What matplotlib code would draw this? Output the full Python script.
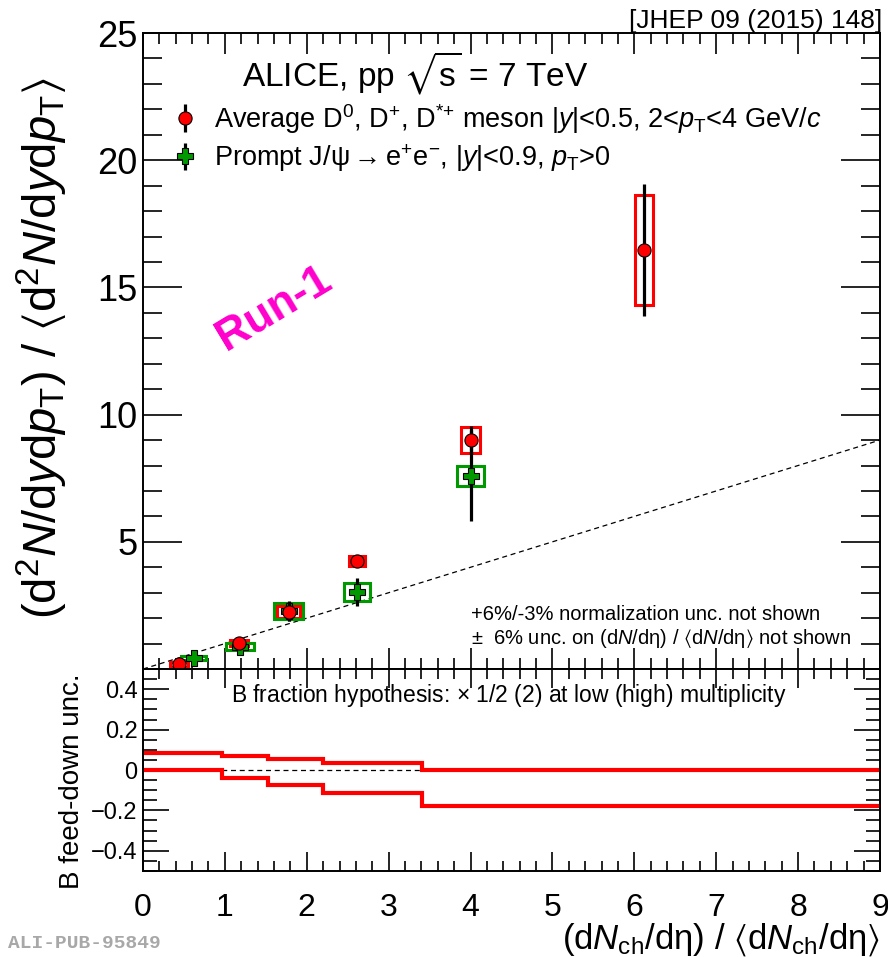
import matplotlib
matplotlib.use("Agg")
import matplotlib.pyplot as plt
from matplotlib.patches import Rectangle
from matplotlib.ticker import MultipleLocator, FixedLocator
import numpy as np

plt.rcParams['font.family'] = ['Liberation Sans', 'DejaVu Sans']
plt.rcParams['mathtext.fontset'] = 'custom'
plt.rcParams['mathtext.rm'] = 'Liberation Sans'
plt.rcParams['mathtext.it'] = 'Liberation Sans:italic'
plt.rcParams['mathtext.bf'] = 'Liberation Sans:bold'
plt.rcParams['mathtext.fallback'] = 'stixsans'

RED = '#ff0000'
GREEN = '#009900'

# Average D meson self-normalised yields vs multiplicity
d_x = [0.44, 1.17, 1.78, 2.61, 4.00, 6.12]
d_y = [0.18, 1.02, 2.24, 4.25, 9.00, 16.47]
d_stat = [0.10, 0.15, 0.37, 0.15, 0.55, 2.60]
d_syst = [0.10, 0.13, 0.25, 0.20, 0.51, 2.15]
d_boxw = [0.115, 0.11, 0.14, 0.10, 0.115, 0.11]

# Prompt J/psi self-normalised yields vs multiplicity
j_x = [0.62, 1.18, 1.78, 2.61, 4.00]
j_y = [0.43, 0.87, 2.28, 3.03, 7.60]
j_stat = [0.10, 0.20, 0.40, 0.55, 1.80]
j_syst = [0.08, 0.14, 0.33, 0.37, 0.40]
j_boxw = [0.15, 0.17, 0.18, 0.16, 0.17]

# B feed-down band edges (step functions)
fd_edges = [0.0, 0.97, 1.53, 2.20, 3.41, 9.0]
fd_upper = [0.083, 0.070, 0.053, 0.037, 0.0]
fd_lower = [0.0, -0.040, -0.075, -0.115, -0.180]

diag = [0, 9]

fig = plt.figure(figsize=(8.88, 9.57), dpi=100)
ax = fig.add_axes([0.161, 0.3009, 0.830, 0.6646])
axb = fig.add_axes([0.161, 0.0899, 0.830, 0.2110], sharex=ax)


def style_axes(a, xmaj, xmin, ymaj, ymin, fs_y):
    for s in a.spines.values():
        s.set_linewidth(1.4)
    a.tick_params(which='both', direction='in', top=True, right=True, width=1.2)
    a.tick_params(which='major', axis='x', length=xmaj)
    a.tick_params(which='minor', axis='x', length=xmin)
    a.tick_params(which='major', axis='y', length=ymaj, labelsize=fs_y, pad=4)
    a.tick_params(which='minor', axis='y', length=ymin)


# upper panel
ax.plot(diag, diag, ls=(0, (4, 3)), color='black', lw=0.9, zorder=1)

for x, y, s, w in zip(d_x, d_y, d_syst, d_boxw):
    ax.add_patch(Rectangle((x - w, y - s), 2 * w, 2 * s, fill=False,
                           edgecolor=RED, lw=2.2, zorder=2))
for x, y, s, w in zip(j_x, j_y, j_syst, j_boxw):
    ax.add_patch(Rectangle((x - w, y - s), 2 * w, 2 * s, fill=False,
                           edgecolor=GREEN, lw=2.2, zorder=2))

hj = ax.errorbar(j_x, j_y, yerr=j_stat, fmt='P', color='black', ecolor='black',
                 elinewidth=2.3, capsize=0, markersize=12, markerfacecolor=GREEN,
                 markeredgecolor='black', markeredgewidth=0.8, zorder=3)
hd = ax.errorbar(d_x, d_y, yerr=d_stat, fmt='o', color='black', ecolor='black',
                 elinewidth=2.3, capsize=0, markersize=9.5, markerfacecolor=RED,
                 markeredgecolor='black', markeredgewidth=0.8, zorder=4)

ax.set_xlim(0, 9)
ax.set_ylim(0, 25)
ax.yaxis.set_major_locator(FixedLocator([5, 10, 15, 20, 25]))
ax.yaxis.set_minor_locator(MultipleLocator(1))
ax.xaxis.set_major_locator(MultipleLocator(1))
ax.xaxis.set_minor_locator(MultipleLocator(0.2))
style_axes(ax, 15, 8, 28, 14, 26)
ax.tick_params(axis='x', labelbottom=False)

ax.text(0.369, 0.937, r'ALICE, pp $\sqrt{\mathrm{s}}$ = 7 TeV', transform=ax.transAxes,
        ha='center', va='center', fontsize=24)
ax.legend([hd, hj],
          [r'Average D$^{0}$, D$^{+}$, D$^{*{+}}$ meson $|y|$<0.5, 2<$p_\mathrm{T}$<4 GeV/$c$',
           r'Prompt J/ψ$\rightarrow\mathrm{e}^{+}\mathrm{e}^{-}$, $|y|$<0.9, $p_\mathrm{T}$>0'],
          loc='upper left', bbox_to_anchor=(0.037, 0.892), frameon=False,
          fontsize=19.5, handlelength=1.1, handletextpad=0.52, borderpad=0,
          borderaxespad=0, labelspacing=0.25)
ax.text(0.178, 0.566, 'Run-1', transform=ax.transAxes, rotation=31,
        ha='center', va='center', fontsize=32, fontweight='bold', color='#ff00cc')
ax.text(0.445, 0.085, '+6%/-3% normalization unc. not shown', transform=ax.transAxes,
        ha='left', va='center', fontsize=14.5)
ax.text(0.445, 0.048, r'±  6% unc. on (d$N$/dη) / $\langle$d$N$/dη$\rangle$ not shown',
        transform=ax.transAxes, ha='left', va='center', fontsize=14.5)
fig.text(42 / 888, 1 - 348 / 957,
         r'(d$^{2}$$N$/d$y$d$p_\mathrm{T}$) / $\langle$d$^{2}$$N$/d$y$d$p_\mathrm{T}\rangle$',
         rotation=90, ha='center', va='center', fontsize=34)

# lower panel: B feed-down uncertainty
axb.axhline(0, ls=(0, (4, 3)), color='black', lw=0.9, zorder=1)
axb.stairs(fd_upper, fd_edges, color=RED, lw=3, baseline=None, zorder=2)
axb.stairs(fd_lower, fd_edges, color=RED, lw=3, baseline=None, zorder=2)
axb.set_ylim(-0.5, 0.5)
axb.yaxis.set_major_locator(FixedLocator([-0.4, -0.2, 0, 0.2, 0.4]))
axb.yaxis.set_minor_locator(MultipleLocator(0.05))
axb.set_yticklabels(['−0.4', '−0.2', '0', '0.2', '0.4'])
style_axes(axb, 14, 7, 19, 10, 17)
axb.tick_params(axis='x', labelsize=23, pad=16)
axb.text(0.497, 0.87, r'B fraction hypothesis: $\times$ 1/2 (2) at low (high) multiplicity',
         transform=axb.transAxes, ha='center', va='center', fontsize=16.5)
fig.text(72 / 888, 1 - 781 / 957, 'B feed-down unc.', rotation=90,
         ha='center', va='center', fontsize=20)
fig.text(0.991, 1 - 949 / 957,
         r'(d$N_\mathrm{ch}$/dη) / $\langle$d$N_\mathrm{ch}$/dη$\rangle$',
         ha='right', va='baseline', fontsize=25)

fig.text(0.993, 0.978, '[JHEP 09 (2015) 148]', ha='right', va='center', fontsize=19)
fig.text(0.009, 1 - 944 / 957, 'ALI-PUB-95849', ha='left', va='center', fontsize=14,
         family='Liberation Mono', fontweight='bold', color='#a8a8a8')

fig.savefig('out.png', dpi=100)
